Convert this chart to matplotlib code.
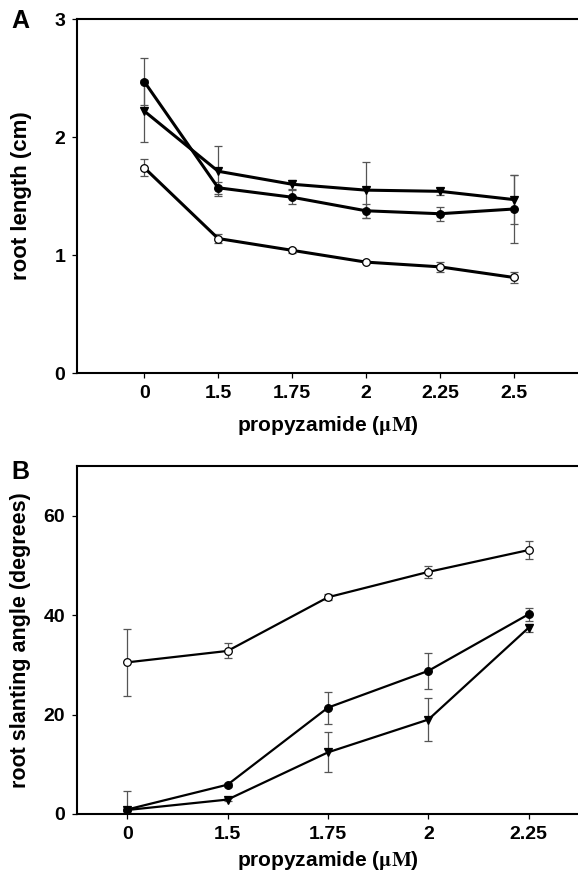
import numpy as np
import matplotlib
matplotlib.use("Agg")
import matplotlib.pyplot as plt

plt.rcParams['font.family'] = ['Liberation Sans', 'DejaVu Sans']
plt.rcParams['font.weight'] = 'bold'
plt.rcParams['axes.labelweight'] = 'bold'
plt.rcParams['mathtext.fontset'] = 'stix'

# panel A: root length (cm)
conc_a = ["0", "1.5", "1.75", "2", "2.25", "2.5"]
open_a = [1.74, 1.14, 1.04, 0.94, 0.90, 0.81]
open_a_err = [0.07, 0.04, 0.02, 0.01, 0.045, 0.045]
filled_a = [2.47, 1.57, 1.49, 1.375, 1.35, 1.39]
filled_a_err = [0.20, 0.05, 0.06, 0.06, 0.06, 0.29]
tri_a = [2.22, 1.71, 1.60, 1.55, 1.54, 1.47]
tri_a_err = [0.26, 0.21, 0.04, 0.24, 0.03, 0.21]

# panel B: root slanting angle (degrees)
conc_b = ["0", "1.5", "1.75", "2", "2.25"]
open_b = [30.5, 32.8, 43.6, 48.7, 53.1]
open_b_err = [6.7, 1.5, 0.6, 1.2, 1.8]
filled_b = [0.9, 5.9, 21.4, 28.8, 40.2]
filled_b_err = [3.7, 0.4, 3.2, 3.6, 1.3]
tri_b = [0.8, 2.9, 12.4, 19.0, 37.5]
tri_b_err = [0.3, 0.3, 4.0, 4.4, 0.8]

fig = plt.figure(figsize=(5.78, 8.73), dpi=100)
ax_a = fig.add_axes([0.1332, 0.5727, 0.8668, 0.4055])
ax_b = fig.add_axes([0.1332, 0.0676, 0.8668, 0.3986])


def draw(ax, labels, series, lw, ms):
    x = np.arange(len(labels))
    for vals, errs, marker, face in series:
        ax.errorbar(x, vals, yerr=errs, fmt="none", ecolor="#555555",
                    elinewidth=0.9, capsize=2.8, capthick=0.9, zorder=2)
        ax.plot(x, vals, color="black", lw=lw, marker=marker, ms=ms,
                mfc=face, mec="black", mew=0.9, zorder=3)
    ax.set_xticks(x)
    ax.set_xticklabels(labels)
    ax.spines["right"].set_visible(False)
    for s in ["left", "bottom", "top"]:
        ax.spines[s].set_linewidth(1.5)
    ax.tick_params(direction="out", length=3.5, width=0.9, labelsize=14, pad=5)
    ax.set_xlabel(r"propyzamide ($\mathrm{\mu M}$)", fontsize=15)


draw(ax_a, conc_a,
     [(open_a, open_a_err, "o", "white"),
      (filled_a, filled_a_err, "o", "black"),
      (tri_a, tri_a_err, "v", "black")],
     lw=2.2, ms=5.5)
ax_a.set_xlim(-0.91, 5.87)
ax_a.set_ylim(0, 3)
ax_a.set_yticks([0, 1, 2, 3])
ax_a.set_ylabel("root length (cm)", fontsize=16)
ax_a.yaxis.set_label_coords(-0.09, 0.5)
ax_a.xaxis.set_label_coords(0.5, -0.115)

draw(ax_b, conc_b,
     [(open_b, open_b_err, "o", "white"),
      (filled_b, filled_b_err, "o", "black"),
      (tri_b, tri_b_err, "v", "black")],
     lw=1.6, ms=5.5)
ax_b.set_xlim(-0.5, 4.49)
ax_b.set_ylim(0, 70)
ax_b.set_yticks([0, 20, 40, 60])
ax_b.set_ylabel("root slanting angle (degrees)", fontsize=15.5)
ax_b.yaxis.set_label_coords(-0.092, 0.5)
ax_b.xaxis.set_label_coords(0.5, -0.1)

fig.text(20 / 578, 1 - 21 / 873, "A", fontsize=18, fontweight="bold", ha="center", va="center")
fig.text(20 / 578, 1 - 472 / 873, "B", fontsize=18, fontweight="bold", ha="center", va="center")

fig.savefig("out.png", dpi=100)
